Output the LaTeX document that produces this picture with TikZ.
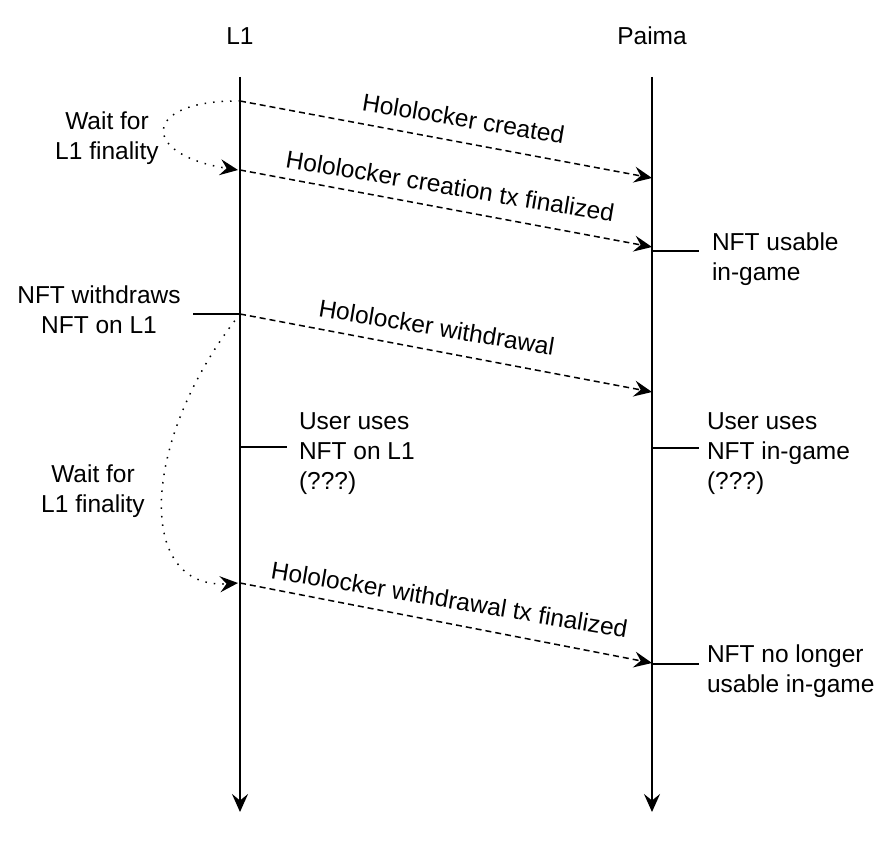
\documentclass[tikz,border=0pt]{standalone}
\usepackage{fontspec}
\setmainfont{Liberation Sans}
\usetikzlibrary{arrows.meta}
\begin{document}
\begin{tikzpicture}[x=1pt,y=-1pt,
  txt/.style={font=\fontsize{24.5}{30}\selectfont, inner sep=0pt, outer sep=0pt},
  tipstyle/.style={-{Stealth[length=18pt,width=16pt,inset=6.5pt]}},
  axisline/.style={line width=2pt, tipstyle},
  msg/.style={line width=1.5pt, dash pattern=on 6pt off 4pt, tipstyle},
  waitline/.style={line width=1.5pt, dash pattern=on 1.5pt off 7pt, tipstyle},
  tickline/.style={line width=1.5pt},
  lbl/.style={txt, rotate=-9.5, anchor=base}]
\useasboundingbox (0,0) rectangle (893,850);

% axes
\node[txt, anchor=base] (l1) at (240,45) {L1};
\node[txt, anchor=base] (paima) at (652,45) {Paima};
\coordinate (l1top) at (240,77);
\coordinate (l1bot) at (240,812);
\coordinate (ptop) at (652,77);
\coordinate (pbot) at (652,812);
\draw[axisline] (l1top) -- (l1bot);
\draw[axisline] (ptop) -- (pbot);

% message endpoints
\coordinate (m1s) at (240,101);
\coordinate (m1e) at (652,178);
\coordinate (m2s) at (240,170);
\coordinate (m2e) at (652,247);
\coordinate (m3s) at (240,314);
\coordinate (m3e) at (652,392);
\coordinate (m4s) at (240,583);
\coordinate (m4e) at (652,663);

\draw[msg] (m1s) -- node[lbl, pos=0.533] {\raisebox{15pt}{Hololocker created}} (m1e);
\draw[msg] (m2s) -- node[lbl, pos=0.501] {\raisebox{14pt}{Hololocker creation tx finalized}} (m2e);
\draw[msg] (m3s) -- node[lbl, pos=0.468] {\raisebox{15pt}{Hololocker withdrawal}} (m3e);
\draw[msg] (m4s) -- node[lbl, pos=0.499] {\raisebox{15pt}{Hololocker withdrawal tx finalized}} (m4e);

% waiting curves
\coordinate (w1e) at (238,170);
\coordinate (w2e) at (238,583);
\draw[waitline] (m1s) .. controls (140,100) and (140,155) .. (w1e);
\draw[waitline] (m3s) .. controls (140,440) and (135,590) .. (w2e);
\node[txt, align=center, anchor=north] (wait1) at (107,111.4) {Wait for\\L1 finality};
\node[txt, align=center, anchor=north] (wait2) at (93,465) {Wait for\\L1 finality};

% ticks and notes
\coordinate (t1a) at (652,251);
\coordinate (t1b) at (699,251);
\draw[tickline] (t1a) -- (t1b);
\node[txt, align=left, anchor=north west] (usable) at (712,233) {NFT usable\\in-game};

\coordinate (t2a) at (193,314);
\draw[tickline] (t2a) -- (m3s);
\node[txt, align=center, anchor=north] (withdraws) at (99,285.4) {NFT withdraws\\NFT on L1};

\coordinate (t3a) at (240,447);
\coordinate (t3b) at (287,447);
\draw[tickline] (t3a) -- (t3b);
\node[txt, align=left, anchor=north west] (usesl1) at (299,412.5) {User uses\\NFT on L1\\(???)};

\coordinate (t4a) at (652,448);
\coordinate (t4b) at (699,448);
\draw[tickline] (t4a) -- (t4b);
\node[txt, align=left, anchor=north west] (usesgame) at (707,412.5) {User uses\\NFT in-game\\(???)};

\coordinate (t5a) at (652,664);
\coordinate (t5b) at (699,664);
\draw[tickline] (t5a) -- (t5b);
\node[txt, align=left, anchor=north west] (nolonger) at (707,645) {NFT no longer\\usable in-game};
\end{tikzpicture}
\end{document}
